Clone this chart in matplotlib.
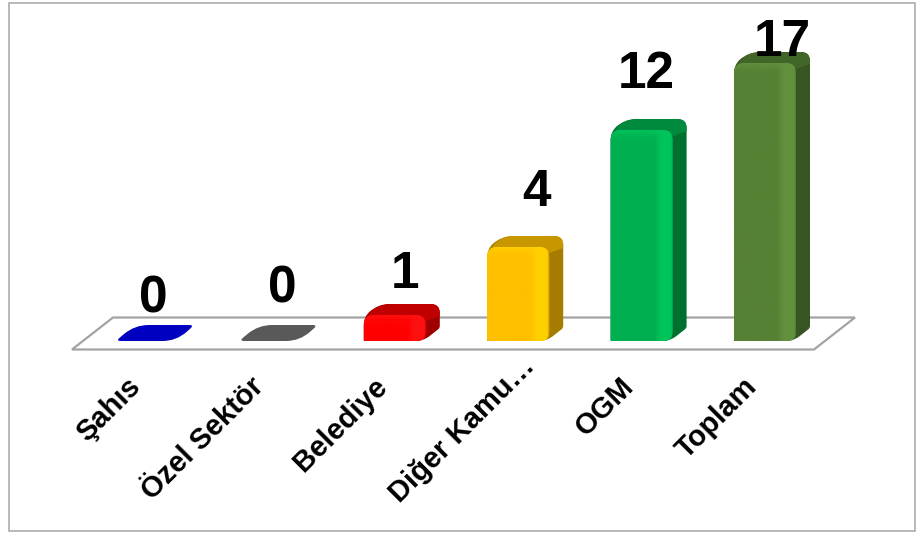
import numpy as np
import matplotlib
matplotlib.use('Agg')
import matplotlib.pyplot as plt
from matplotlib.colors import LinearSegmentedColormap
from matplotlib.patches import PathPatch, Rectangle
from matplotlib.path import Path

categories = ['Şahıs', 'Özel Sektör', 'Belediye', 'Diğer Kamu…', 'OGM', 'Toplam']
values = [0, 0, 1, 4, 12, 17]
# the bars are not linear to the labels, so heights are read off the picture
bar_heights = [0, 0, 26, 94, 211, 278]
label_heights = [46, 56, 70, 153, 270, 303]
label_x_shift = [0.0, 0.046, 0.045, 0.105, -0.004, 0.097]
# the cut off name sits closer to the floor than the others
name_x_shift = [0, 0, 0, 0.2, 0, 0]
name_y_shift = [0, 0, 0, 20, 0, 0]

front_cols = ['#0000c0', '#595959', '#ff0000', '#ffc000', '#00b050', '#558135']
light_cols = ['#0000c0', '#595959', '#ff1010', '#ffd000', '#00c45a', '#62913e']
top_cols = ['#0000c0', '#595959', '#c00000', '#c89700', '#008a3e', '#426528']
side_cols = ['#0000c0', '#595959', '#a00000', '#a67c00', '#00702f', '#375522']

W, H = 916, 534
STEP = 123.4     # px between categories
X0 = 148         # px of first bar centre
Y0 = 341         # px of the value 0 line
bw = 62 / STEP
dx = 14 / STEP
dy = 13

plt.rcParams['font.family'] = ['Liberation Sans', 'DejaVu Sans']

fig = plt.figure(figsize=(W / 100, H / 100), dpi=100)
ax = fig.add_axes([0, 0, 1, 1])
ax.set_xlim(-X0 / STEP, (W - X0) / STEP)
ax.set_ylim(Y0 - H, Y0)
ax.axis('off')


def px_x(p):
    return (p - X0) / STEP


def px_y(p):
    return Y0 - p


def rounded(points, radii):
    # closed polygon with rounded corners, radii are in pixels
    pts = np.array([[x * STEP, y] for x, y in points])
    verts, codes = [], []
    n = len(pts)
    for i in range(n):
        p, a, b = pts[i], pts[i - 1], pts[(i + 1) % n]
        r = radii[i]
        if r == 0:
            verts.append(p)
            codes.append(Path.LINETO)
            continue
        u = (a - p) / np.linalg.norm(a - p)
        v = (b - p) / np.linalg.norm(b - p)
        verts += [p + u * r, p, p + v * r]
        codes += [Path.LINETO, Path.CURVE3, Path.CURVE3]
    codes[0] = Path.MOVETO
    verts.append(verts[0])
    codes.append(Path.CLOSEPOLY)
    verts = np.array(verts)
    verts[:, 0] /= STEP
    return Path(verts, codes)


def add_shape(points, radii, color, z):
    patch = PathPatch(rounded(points, radii), fc=color, ec='none', zorder=z)
    ax.add_patch(patch)
    return patch


# frame
ax.add_patch(Rectangle((px_x(8.5), px_y(531)), 906 / STEP, 528, fc='none',
                       ec='#a6a6a6', lw=1.1, zorder=1))

# floor
floor = [(72, 349.5), (814, 349.5), (855, 317.5), (113, 317.5)]
ax.add_patch(plt.Polygon([(px_x(a), px_y(b)) for a, b in floor], closed=True,
                         fc='white', ec='#a3a3a3', lw=1.6, zorder=2))

for i, h in enumerate(bar_heights):
    left = i - bw / 2
    right = i + bw / 2
    if h == 0:
        # empty category, only the flat base of the bar is left
        add_shape([(left - 0.01, 0), (right - 0.02, 0), (right + dx + 0.01, 16), (left + dx + 0.03, 16)],
                  [5, 14, 5, 14], front_cols[i], 3)
        continue

    # side and top behind the front face
    add_shape([(left, 0), (right - 0.02, 0), (right + dx, dy), (right + dx, h + dy - 2),
               (left + dx, h + dy - 2), (left, h - 2)],
              [0, 8, 2, 9, 12, 8], side_cols[i], 3)
    add_shape([(left, h - 6), (left + dx, h + dy - 2), (right + dx, h + dy - 2),
               (right + dx, h + dy - 14), (right, h - 6)],
              [6, 12, 9, 0, 0], top_cols[i], 3.1)

    # front face with a soft highlight running up it
    front = add_shape([(left, 0), (right, 0), (right, h), (left, h)],
                      [2, 9, 10, 10], front_cols[i], 3.2)
    cmap = LinearSegmentedColormap.from_list(
        'f', [front_cols[i], front_cols[i], light_cols[i], light_cols[i], side_cols[i]])
    grad = np.interp(np.linspace(0, 1, 200), [0, 0.7, 0.85, 0.92, 1.0],
                     [0.1, 0.25, 0.6, 0.55, 0.85]).reshape(1, -1)
    im = ax.imshow(grad, cmap=cmap, vmin=0, vmax=1, aspect='auto',
                   extent=(left, right, 0, h), zorder=3.3)
    im.set_clip_path(front)
    # lighter rounded band at the top of the face
    vband = np.linspace(0, 1, 40).reshape(-1, 1)
    cols = np.tile(matplotlib.colors.to_rgba(light_cols[i]), (40, 1, 1))
    cols[:, 0, 3] = vband[:, 0] ** 2 * 0.9
    band = ax.imshow(cols, aspect='auto', origin='lower',
                     extent=(left, right, h - 14, h), zorder=3.4)
    band.set_clip_path(front)

ax.set_xlim(-X0 / STEP, (W - X0) / STEP)
ax.set_ylim(Y0 - H, Y0)

for i, v in enumerate(values):
    ax.text(i + 0.04 + label_x_shift[i], label_heights[i] - 4, str(v), ha='center', va='center',
            fontsize=37, fontweight='bold', color='black', zorder=5)

    # category names hang off the floor at 45 degrees
    ax.text(i - 0.18 + name_x_shift[i], -31 + name_y_shift[i], categories[i], rotation=45,
            rotation_mode='anchor', ha='right', va='top', fontsize=21, fontweight='bold',
            color='black', zorder=5)

fig.savefig('out.png', dpi=100, facecolor='white')
